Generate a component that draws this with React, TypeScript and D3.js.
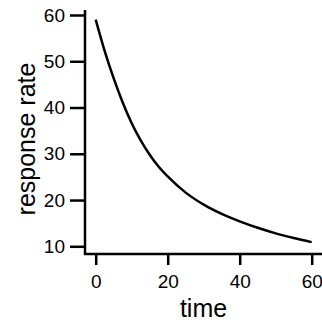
import * as d3 from 'd3';
import { useEffect, useRef } from 'react';

// values
const times = [0, 2.5, 5, 7.5, 10, 12.5, 15, 17.5, 20, 25, 30, 35, 40, 45, 50, 55, 60];
const rates = [59.0, 52.2, 46.3, 41.1, 36.6, 32.9, 29.8, 27.2, 25.1, 21.6, 19.0, 17.0, 15.4, 14.0, 12.8, 11.8, 10.9];
const xTicks = [0, 20, 40, 60];
const yTicks = [10, 20, 30, 40, 50, 60];
const xLabel = 'time';
const yLabel = 'response rate';

const App = () => {
  const svgRef = useRef<SVGSVGElement>(null);

  useEffect(() => {
    document.body.style.margin = '0';
    const width = 322;
    const height = 323;
    const axisX = 85;
    const axisY = 254;
    const font = '"Liberation Sans", Arial, sans-serif';

    const xScale = d3.scaleLinear([0, 60], [95.7, 311.7]);
    const yScale = d3.scaleLinear([10, 60], [246.3, 15]);

    const svg = d3.select(svgRef.current);
    svg.selectAll('*').remove();
    svg.attr('width', width).attr('height', height).attr('viewBox', [0, 0, width, height]);

    // L-shaped box
    svg.append('path')
      .attr('fill', 'none')
      .attr('stroke', '#000')
      .attr('stroke-width', 2.5)
      .attr('d', `M ${axisX} 10 V ${axisY} H ${width}`);

    svg.append('g')
      .attr('transform', `translate(${axisX},0)`)
      .call(d3.axisLeft(yScale).tickValues(yTicks).tickSize(15).tickPadding(5))
      .call((g) => {
        g.select('.domain').remove();
        g.selectAll('.tick line').attr('stroke-width', 2.5);
        g.selectAll('.tick text').attr('font-size', 19).attr('font-family', font).attr('fill', '#000');
      });

    svg.append('g')
      .attr('transform', `translate(0,${axisY})`)
      .call(d3.axisBottom(xScale).tickValues(xTicks).tickSize(11).tickPadding(10))
      .call((g) => {
        g.select('.domain').remove();
        g.selectAll('.tick line').attr('stroke-width', 2.5);
        g.selectAll('.tick text').attr('font-size', 19).attr('font-family', font).attr('fill', '#000');
      });

    const line = d3
      .line<number>()
      .curve(d3.curveMonotoneX)
      .x((i) => xScale(times[i]))
      .y((i) => yScale(rates[i]));

    svg.append('path')
      .attr('fill', 'none')
      .attr('stroke', '#000')
      .attr('stroke-width', 2.5)
      .attr('d', line(d3.range(times.length)));

    svg.append('text')
      .attr('x', 203.5)
      .attr('y', 317)
      .attr('text-anchor', 'middle')
      .attr('font-size', 25)
      .attr('font-family', font)
      .text(xLabel);

    svg.append('text')
      .attr('transform', `translate(35,139) rotate(-90)`)
      .attr('text-anchor', 'middle')
      .attr('font-size', 25)
      .attr('font-family', font)
      .text(yLabel);
  }, []);

  return <svg ref={svgRef} style={{ display: 'block' }} />;
};

export default App;
